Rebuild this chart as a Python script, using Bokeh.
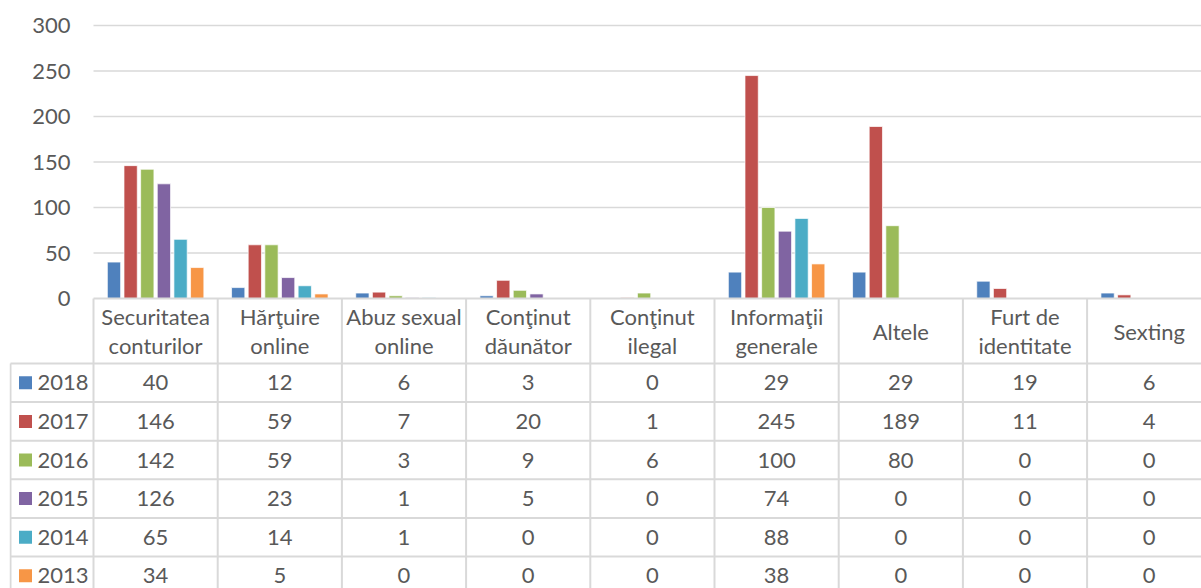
from bokeh.plotting import figure
from bokeh.models import Range1d, ColumnDataSource
from bokeh.core.properties import value
from bokeh.embed import file_html
from bokeh.resources import INLINE

# ---------------- data ----------------
categories = ["Securitatea\nconturilor", "Hărţuire\nonline", "Abuz sexual\nonline",
              "Conţinut\ndăunător", "Conţinut\nilegal", "Informaţii\ngenerale",
              "Altele", "Furt de\nidentitate", "Sexting"]
years = ["2018", "2017", "2016", "2015", "2014", "2013"]
v2018 = [40, 12, 6, 3, 0, 29, 29, 19, 6]
v2017 = [146, 59, 7, 20, 1, 245, 189, 11, 4]
v2016 = [142, 59, 3, 9, 6, 100, 80, 0, 0]
v2015 = [126, 23, 1, 5, 0, 74, 0, 0, 0]
v2014 = [65, 14, 1, 0, 0, 88, 0, 0, 0]
v2013 = [34, 5, 0, 0, 0, 38, 0, 0, 0]
series = [v2018, v2017, v2016, v2015, v2014, v2013]
colors = ["#4F81BD", "#C0504D", "#9BBB59", "#8064A2", "#4BACC6", "#F79646"]
y_ticks = [0, 50, 100, 150, 200, 250, 300]

# ---------------- layout constants (page pixels) ----------------
FONT = value("Lato")
FS = "22px"
TXT = "#595959"
GRID = "#D9D9D9"
W, H = 1201, 588
FRAME_L = 9                      # table left edge
PLOT_L = 93                      # left edge of first category
CAT_PX = 124.2                   # width of a category column
Y300, Y0 = 25, 298               # page y of 300 and 0
HEADER_H = 65
ROW_H = 38.6
N = len(categories)
SCALE = (Y0 - Y300) / 300.0
PITCH = 0.134
BAR_W = 0.107

def xd(page_x):
    return (page_x - PLOT_L) / CAT_PX

def yd(page_y):
    return (Y0 - page_y) / SCALE

p = figure(width=W, height=H, output_backend="svg", toolbar_location=None,
           x_range=Range1d(xd(FRAME_L), xd(W)), y_range=Range1d(yd(H), yd(0)),
           x_axis_type=None, y_axis_type=None,
           min_border_left=FRAME_L, min_border_right=0,
           min_border_top=0, min_border_bottom=0)
p.outline_line_color = None
p.grid.visible = False

# value-axis gridlines and labels
gt = [t for t in y_ticks if t > 0]
p.segment(x0=[0] * len(gt), y0=gt, x1=[N] * len(gt), y1=gt, line_color=GRID, line_width=1.4)
p.text(x=[xd(70)] * len(y_ticks), y=y_ticks, text=[str(t) for t in y_ticks],
       text_font=FONT, text_font_size=FS, text_color=TXT, text_align="right",
       text_baseline="middle")

# bars
for j, (vals, col) in enumerate(zip(series, colors)):
    xs, tops = [], []
    for i, v in enumerate(vals):
        if v > 0:
            xs.append(i + 0.5 + (j - 2.5) * PITCH)
            tops.append(v)
    src = ColumnDataSource(dict(x=xs, top=tops))
    p.vbar(x="x", top="top", bottom=0, width=BAR_W, source=src,
           fill_color=col, line_color="white", line_width=1, line_alpha=0.7)

# ---------------- data table ----------------
row_lines = [yd(Y0 + HEADER_H + ROW_H * k) for k in range(6)]
p.segment(x0=[0], y0=[0], x1=[N], y1=[0], line_color=GRID, line_width=2)
p.segment(x0=[xd(FRAME_L + 1)] * 6, y0=row_lines, x1=[N] * 6, y1=row_lines,
          line_color=GRID, line_width=2)
p.segment(x0=list(range(N)), y0=[0] * N, x1=list(range(N)), y1=[yd(H)] * N,
          line_color=GRID, line_width=2)
p.segment(x0=[xd(FRAME_L + 1)], y0=[row_lines[0]], x1=[xd(FRAME_L + 1)], y1=[yd(H)],
          line_color=GRID, line_width=2)

# header (category names)
p.text(x=[i + 0.5 for i in range(N)], y=[yd(Y0 + HEADER_H / 2)] * N, text=categories,
       text_font=FONT, text_font_size=FS, text_color=TXT, text_align="center",
       text_baseline="middle", text_line_height=1.1)

# rows
for k, (yr, vals, col) in enumerate(zip(years, series, colors)):
    yc = yd(Y0 + HEADER_H + ROW_H * (k + 0.5))
    p.scatter(x=[xd(25)], y=[yc], marker="square", size=13, fill_color=col, line_color=None)
    p.text(x=[xd(37)], y=[yc], text=[yr], text_font=FONT, text_font_size=FS,
           text_color=TXT, text_align="left", text_baseline="middle")
    p.text(x=[i + 0.5 for i in range(N)], y=[yc] * N, text=[str(v) for v in vals],
           text_font=FONT, text_font_size=FS, text_color=TXT, text_align="center",
           text_baseline="middle")

open("out.html", "w").write(file_html(p, INLINE))
